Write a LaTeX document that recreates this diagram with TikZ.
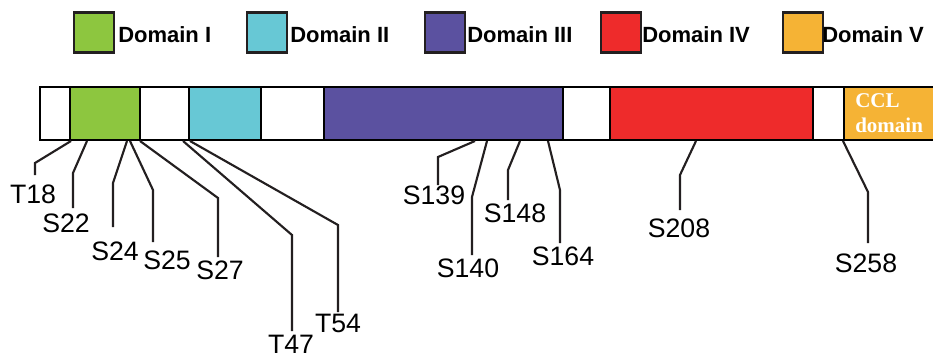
\documentclass[tikz,border=0pt]{standalone}
\usepackage{fontspec}
\setmainfont{Liberation Sans}
\newfontfamily\serifb{Liberation Serif}
\definecolor{dI}{HTML}{8DC63F}
\definecolor{dII}{HTML}{67C8D5}
\definecolor{dIII}{HTML}{5B51A0}
\definecolor{dIV}{HTML}{EE2B2B}
\definecolor{dV}{HTML}{F5B335}
\definecolor{ink}{HTML}{231F20}
\begin{document}
\begin{tikzpicture}[x=0.75pt,y=-0.75pt,
  legbox/.style={draw=ink,line width=2.2pt,minimum width=30pt,minimum height=30pt,inner sep=0pt},
  legtext/.style={font=\bfseries\fontsize{16.5pt}{18pt}\selectfont,anchor=west,inner sep=0pt},
  seg/.style={draw=black,line width=2pt},
  site/.style={font=\fontsize{20pt}{22pt}\selectfont,inner sep=0pt},
  conn/.style={draw=ink,line width=1.6pt}]
\useasboundingbox (0,0) rectangle (933,357);
% legend
\node[legbox,fill=dI]   (lb1) at (94,32.5) {};
\node[legtext] (lt1) at (118,35) {Domain I};
\node[legbox,fill=dII]  (lb2) at (267,32.5) {};
\node[legtext] (lt2) at (290,35) {Domain II};
\node[legbox,fill=dIII] (lb3) at (445,32.5) {};
\node[legtext] (lt3) at (467,35) {Domain III};
\node[legbox,fill=dIV]  (lb4) at (621,32.5) {};
\node[legtext] (lt4) at (642,35) {Domain IV};
\node[legbox,fill=dV]   (lb5) at (803,32.5) {};
\node[legtext] (lt5) at (822,35) {Domain V};
% bar
\fill[white] (40,87) rectangle (940,140);
\fill[dI]   (70,87) rectangle (140,140);
\fill[dII]  (189,87) rectangle (261,140);
\fill[dIII] (324,87) rectangle (563,140);
\fill[dIV]  (610,87) rectangle (813,140);
\fill[dV]   (844,87) rectangle (940,140);
\draw[seg] (940,87) -- (40,87) -- (40,140) -- (940,140);
\foreach \x in {70,140,189,261,324,563,610,813,844}
  \draw[seg] (\x,87) -- (\x,140);
\node[font=\serifb\bfseries\fontsize{15.75pt}{18.75pt}\selectfont,text=white,align=left,anchor=north west,inner sep=0pt] (ccl) at (855,93) {CCL\\domain};
% site coordinates on bar
\coordinate (c18) at (71,141);
\coordinate (c22) at (87,141);
\coordinate (c24) at (127,141);
\coordinate (c25) at (130,141);
\coordinate (c27) at (140,141);
\coordinate (c47) at (183,141);
\coordinate (c54) at (190,141);
\coordinate (c139) at (475,141);
\coordinate (c140) at (487,141);
\coordinate (c148) at (520,141);
\coordinate (c164) at (548,141);
\coordinate (c208) at (696,141);
\coordinate (c258) at (843,141);
% labels
\node[site] (T18) at (33,194) {T18};
\node[site] (S22) at (66,223) {S22};
\node[site] (S24) at (115,251) {S24};
\node[site] (S25) at (167,260) {S25};
\node[site] (S27) at (220,270) {S27};
\node[site] (T47) at (291,344) {T47};
\node[site] (T54) at (338,323) {T54};
\node[site] (S139) at (434,195) {S139};
\node[site] (S140) at (468,268) {S140};
\node[site] (S148) at (515,213) {S148};
\node[site] (S164) at (563,256) {S164};
\node[site] (S208) at (679,228) {S208};
\node[site] (S258) at (866,263) {S258};
% connectors
\draw[conn] (c18) -- (35,163) -- (35,175);
\draw[conn] (c22) -- (73,173) -- (73,208);
\draw[conn] (c24) -- (113,183) -- (113,227);
\draw[conn] (c25) -- (153,190) -- (153,242);
\draw[conn] (c27) -- (218,198) -- (218,257);
\draw[conn] (c47) -- (292,235) -- (292,331);
\draw[conn] (c54) -- (338,225) -- (338,312);
\draw[conn] (c139) -- (438,157) -- (438,185);
\draw[conn] (c140) -- (472,197) -- (472,255);
\draw[conn] (c148) -- (508,170) -- (508,200);
\draw[conn] (c164) -- (560,190) -- (560,243);
\draw[conn] (c208) -- (680,175) -- (680,210);
\draw[conn] (c258) -- (868,192) -- (868,243);
\end{tikzpicture}
\end{document}
